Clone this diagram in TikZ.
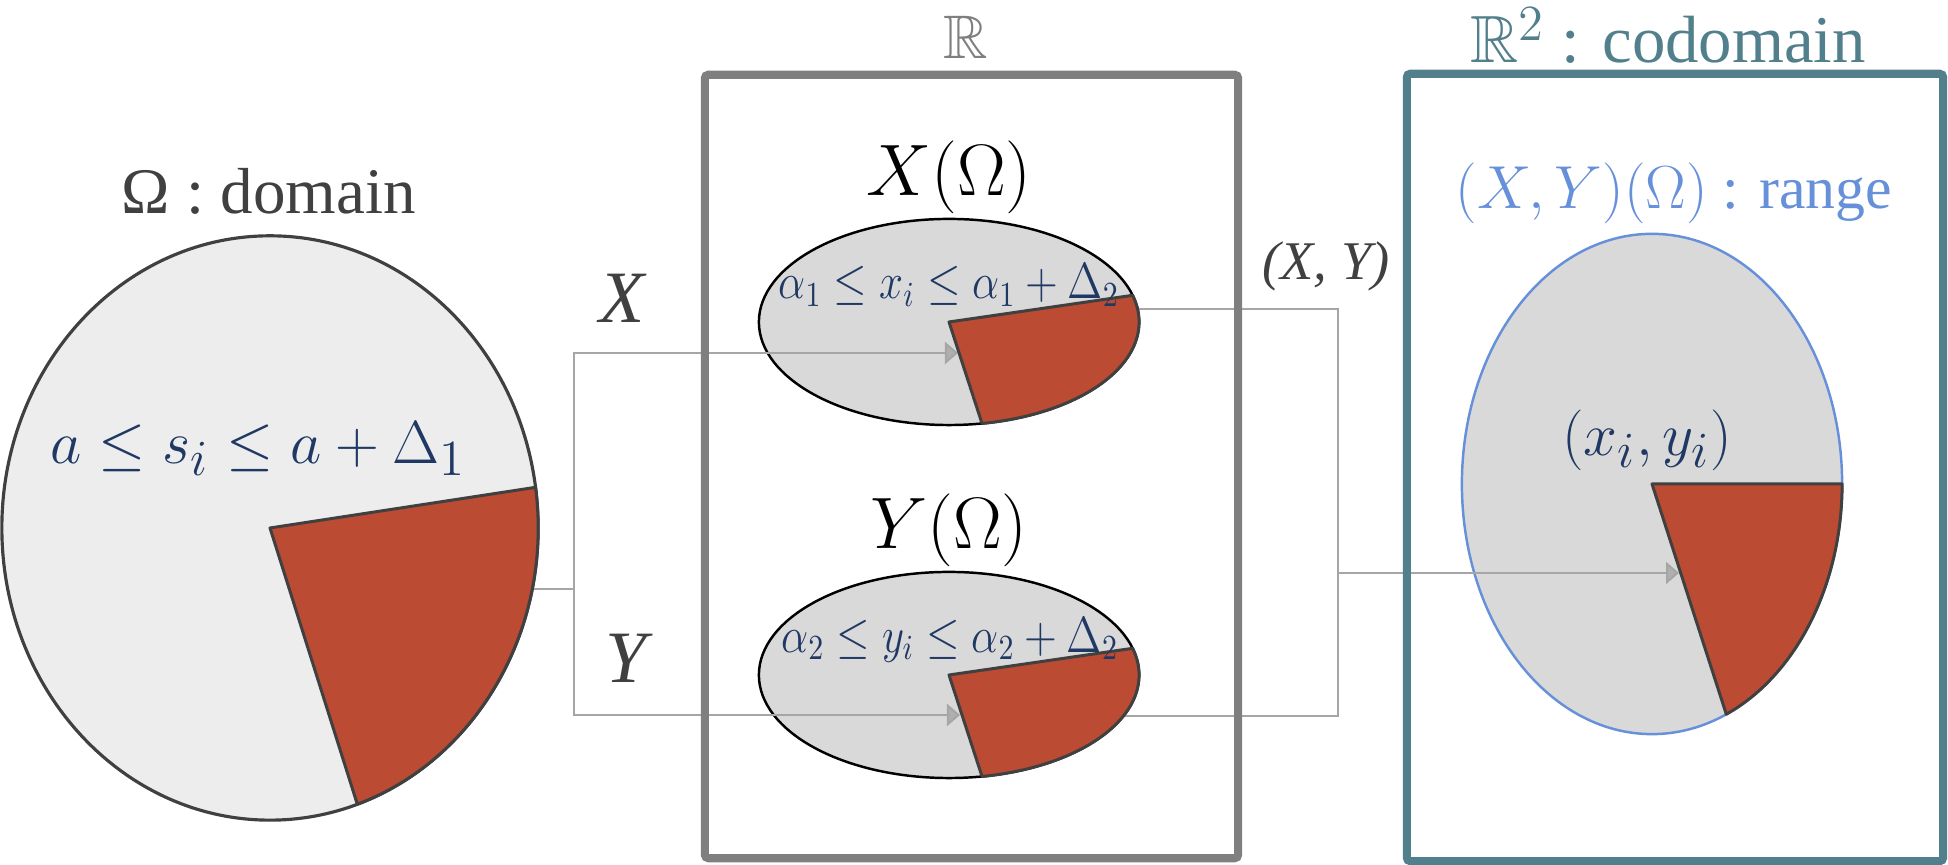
\documentclass[tikz,border=0pt]{standalone}
\usepackage{fontspec}
\setmainfont{Liberation Serif}
\usepackage{amssymb}
\usetikzlibrary{arrows.meta,positioning,shapes.geometric}

\definecolor{navytext}{HTML}{1F3864}
\definecolor{labelgray}{HTML}{404040}
\definecolor{edgegray}{HTML}{404040}
\definecolor{boxgray}{HTML}{7F7F7F}
\definecolor{codteal}{HTML}{527F8C}
\definecolor{rangeblue}{HTML}{6790DA}
\definecolor{domfill}{HTML}{EDEDED}
\definecolor{setgray}{HTML}{D9D9D9}
\definecolor{slicered}{HTML}{BB4B33}
\definecolor{conngray}{HTML}{A6A6A6}
\definecolor{tipgray}{HTML}{AFAFAF}

\begin{document}
\begin{tikzpicture}[
  x=0.01cm, y=0.01cm,
  setell/.style={
    ellipse, draw=black, line width=0.7pt, fill=setgray, inner sep=0pt
  },
  slicefill/.style={
    draw=edgegray, line width=0.85pt, fill=slicered, line join=round
  },
  conn/.style={
    draw=conngray, line width=0.57pt
  },
  arrow/.style={
    conn, -{Triangle[length=3.7pt, width=6.3pt, fill=tipgray]}
  },
  spacebox/.style={
    rectangle, line width=2.3pt, rounded corners=1pt, inner sep=0pt
  },
  formula/.style={
    text=navytext, inner sep=0pt
  },
  maplab/.style={
    text=labelgray, inner sep=0pt, font=\fontsize{21}{25}\selectfont\itshape
  }
]
\useasboundingbox (0,0) rectangle (1948,865);

% Sets
\node[setell, fill=domfill, draw=edgegray, line width=0.9pt, minimum width=5.36cm, minimum height=5.84cm] (omega) at (270,337) {};
\node[setell, minimum width=3.8cm, minimum height=2.06cm] (xset) at (949,543) {};
\node[setell, minimum width=3.8cm, minimum height=2.06cm] (yset) at (949,190) {};
\node[setell, draw=rangeblue, minimum width=3.8cm, minimum height=5.0cm] (range) at (1652,381) {};

% Junctions and arrow ends
\coordinate (jl) at (574,274);
\coordinate (jr) at (1338,292);
\coordinate (xtip) at (958,512);
\coordinate (ytip) at (960,150);
\coordinate (rtip) at (1679,292);

% Maps
\draw[conn] (omega.-13.5) -| (jl);
\draw[arrow] (jl) |- (xtip);
\draw[arrow] (jl) |- (ytip);
\draw[conn] (xset.4) -| (jr);
\draw[conn] (yset.-13) -| (jr);
\draw[arrow] (jr) -- (rtip);

% Slices
\filldraw[slicefill] (omega.center) -- ++(-71:2.68cm and 2.92cm)
  arc[start angle=-71, end angle=8, x radius=2.68cm, y radius=2.92cm] -- cycle;
\foreach \s in {xset,yset}
  \filldraw[slicefill] (\s.center) -- ++(-80:1.9cm and 1.03cm)
    arc[start angle=-80, end angle=15, x radius=1.9cm, y radius=1.03cm] -- cycle;
\filldraw[slicefill] (range.center) -- ++(-67:1.9cm and 2.5cm)
  arc[start angle=-67, end angle=0, x radius=1.9cm, y radius=2.5cm] -- cycle;

% Labels
\node[text=labelgray, font=\fontsize{18.5}{22}\selectfont] (domlab) at (269,674) {Ω : domain};
\node[formula, font=\fontsize{19}{23}\selectfont] (sform) at (258,416) {$a \le s_i \le a + \Delta_1$};
\node[text=boxgray, inner sep=1pt, font=\fontsize{17.5}{21}\selectfont] (rlab) at (966,828) {$\mathbb{R}$};
\node[inner sep=0pt, font=\fontsize{20}{24}\selectfont, above=1pt of xset] (xlab) {$X(\Omega)$};
\node[inner sep=0pt, font=\fontsize{20}{24}\selectfont, above=1pt of yset] (ylab) {$Y(\Omega)$};
\node[formula, font=\fontsize{14}{17}\selectfont] (xform) at (949,580)
  {\scalebox{0.85}[1]{$\alpha_1 \le x_i \le \alpha_1 + \Delta_2$}};
\node[formula, font=\fontsize{14}{17}\selectfont] (yform) at (950,225)
  {\scalebox{0.85}[1]{$\alpha_2 \le y_i \le \alpha_2 + \Delta_2$}};
\node[maplab] (xmap) at (622,567) {X};
\node[maplab] (ymap) at (626,207) {Y};
\node[text=labelgray, font=\fontsize{15.5}{18}\selectfont\itshape] (pairmap) at (1326,599) {(X, Y)};
\node[text=codteal, inner sep=1pt, font=\fontsize{19}{23}\selectfont] (codlab) at (1668,829) {$\mathbb{R}^2$ : codomain};
\node[text=rangeblue, font=\fontsize{17}{21}\selectfont] (rnglab) at (1674,672) {$(X,Y)(\Omega)$ : range};
\node[formula, font=\fontsize{19}{23}\selectfont] (ptlab) at (1647,425) {$(x_i, y_i)$};

% Spaces
\node[spacebox, draw=boxgray, minimum width=5.33cm, minimum height=7.83cm] (rline) at (971.5,398.5) {};
\node[spacebox, draw=codteal, minimum width=5.36cm, minimum height=7.87cm] (rplane) at (1675,397.5) {};

\end{tikzpicture}
\end{document}
